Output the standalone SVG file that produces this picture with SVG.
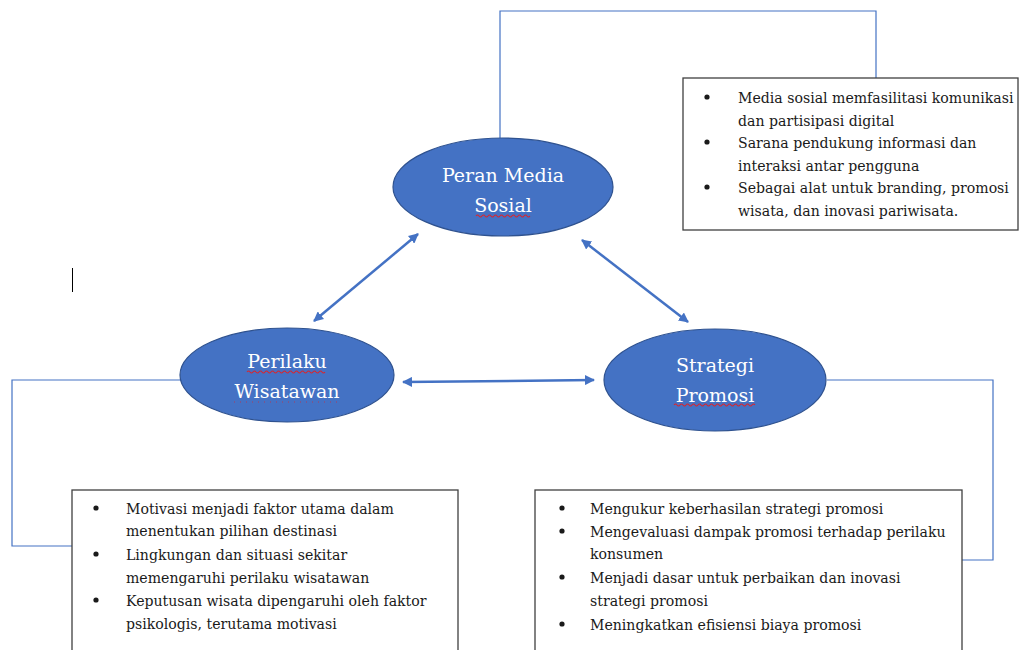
<svg xmlns="http://www.w3.org/2000/svg" width="1022" height="650" viewBox="0 0 1022 650">
<defs>
<marker id="ah" viewBox="0 0 10 10" refX="9" refY="5" markerWidth="4" markerHeight="4" orient="auto-start-reverse" markerUnits="strokeWidth">
<path d="M0,0 L10,5 L0,10 z" fill="#4472C4"/>
</marker>
</defs>
<style>
.node{fill:#4472C4;stroke:#2F528F;stroke-width:1.2}
.lbl{font-family:"DejaVu Serif","Liberation Serif",serif;font-size:19px;fill:#ffffff;text-anchor:middle}
.box{fill:#ffffff;stroke:#404040;stroke-width:1.3}
.txt{font-family:"DejaVu Serif","Liberation Serif",serif;font-size:14.1px;fill:#1a1a1a}
.bul{fill:#1a1a1a}
.conn{fill:none;stroke:#4472C4;stroke-width:1.2}
.arr{fill:none;stroke:#4472C4;stroke-width:2.5;marker-start:url(#ah);marker-end:url(#ah)}
.wave{fill:none;stroke:#D9262E;stroke-width:1.1}
</style>
<rect width="1022" height="650" fill="#ffffff"/>
<g id="connectors">
<polyline class="conn" points="500,138 500,11 876,11 876,78"/>
<polyline class="conn" points="180,380 12,380 12,546 72,546"/>
<polyline class="conn" points="827,380 993,380 993,560 962,560"/>
<line class="arr" x1="314" y1="321" x2="418" y2="234"/>
<line class="arr" x1="582" y1="240" x2="688" y2="322"/>
<line class="arr" x1="403" y1="382" x2="594" y2="380"/>
</g>
<line x1="72.5" y1="268" x2="72.5" y2="292" stroke="#000" stroke-width="1"/>
<g id="node-peran">
<ellipse class="node" cx="503" cy="187" rx="110" ry="49"/>
<text class="lbl" x="503" y="182">Peran Media</text>
<text class="lbl" x="503" y="212">Sosial</text>
<path class="wave" d="M476,216 q1.5,-2 3,0 t3,0 t3,0 t3,0 t3,0 t3,0 t3,0 t3,0 t3,0 t3,0 t3,0 t3,0 t3,0 t3,0 t3,0 t3,0 t3,0 t3,0"/>
</g>
<g id="node-perilaku">
<ellipse class="node" cx="287" cy="375" rx="107" ry="47"/>
<text class="lbl" x="287" y="368">Perilaku</text>
<text class="lbl" x="287" y="398">Wisatawan</text>
<path class="wave" d="M247,372 q1.5,-2 3,0 t3,0 t3,0 t3,0 t3,0 t3,0 t3,0 t3,0 t3,0 t3,0 t3,0 t3,0 t3,0 t3,0 t3,0 t3,0 t3,0 t3,0 t3,0 t3,0 t3,0 t3,0 t3,0 t3,0 t3,0 t3,0"/>
<path d="M234,402 h104" fill="none" stroke="#D9262E" stroke-width="1" stroke-dasharray="1,5" opacity="0.7"/>
</g>
<g id="node-strategi">
<ellipse class="node" cx="715" cy="380" rx="111" ry="51"/>
<text class="lbl" x="715" y="372">Strategi</text>
<text class="lbl" x="715" y="402">Promosi</text>
<path class="wave" d="M674,405 q1.5,-2 3,0 t3,0 t3,0 t3,0 t3,0 t3,0 t3,0 t3,0 t3,0 t3,0 t3,0 t3,0 t3,0 t3,0 t3,0 t3,0 t3,0 t3,0 t3,0 t3,0 t3,0 t3,0 t3,0 t3,0 t3,0 t3,0 t3,0"/>
</g>
<g id="box-media">
<rect class="box" x="683" y="78" width="335" height="152"/>
<circle class="bul" cx="707" cy="97" r="2.6"/>
<circle class="bul" cx="707" cy="142" r="2.6"/>
<circle class="bul" cx="707" cy="187" r="2.6"/>
<text class="txt" x="738" y="103">Media sosial memfasilitasi komunikasi</text>
<text class="txt" x="738" y="126">dan partisipasi digital</text>
<text class="txt" x="738" y="148">Sarana pendukung informasi dan</text>
<text class="txt" x="738" y="171">interaksi antar pengguna</text>
<text class="txt" x="738" y="193">Sebagai alat untuk branding, promosi</text>
<text class="txt" x="738" y="216">wisata, dan inovasi pariwisata.</text>
</g>
<g id="box-perilaku">
<rect class="box" x="72" y="490" width="386" height="170"/>
<circle class="bul" cx="96" cy="508" r="2.6"/>
<circle class="bul" cx="96" cy="554" r="2.6"/>
<circle class="bul" cx="96" cy="600" r="2.6"/>
<text class="txt" x="126" y="514">Motivasi menjadi faktor utama dalam</text>
<text class="txt" x="126" y="536">menentukan pilihan destinasi</text>
<text class="txt" x="126" y="560">Lingkungan dan situasi sekitar</text>
<text class="txt" x="126" y="583">memengaruhi perilaku wisatawan</text>
<text class="txt" x="126" y="606">Keputusan wisata dipengaruhi oleh faktor</text>
<text class="txt" x="126" y="629">psikologis, terutama motivasi</text>
</g>
<g id="box-strategi">
<rect class="box" x="535" y="490" width="427" height="170"/>
<circle class="bul" cx="562" cy="508" r="2.6"/>
<circle class="bul" cx="562" cy="531" r="2.6"/>
<circle class="bul" cx="562" cy="577" r="2.6"/>
<circle class="bul" cx="562" cy="624" r="2.6"/>
<text class="txt" x="590" y="514">Mengukur keberhasilan strategi promosi</text>
<text class="txt" x="590" y="537">Mengevaluasi dampak promosi terhadap perilaku</text>
<text class="txt" x="590" y="559">konsumen</text>
<text class="txt" x="590" y="583">Menjadi dasar untuk perbaikan dan inovasi</text>
<text class="txt" x="590" y="606">strategi promosi</text>
<text class="txt" x="590" y="630">Meningkatkan efisiensi biaya promosi</text>
</g>
</svg>
